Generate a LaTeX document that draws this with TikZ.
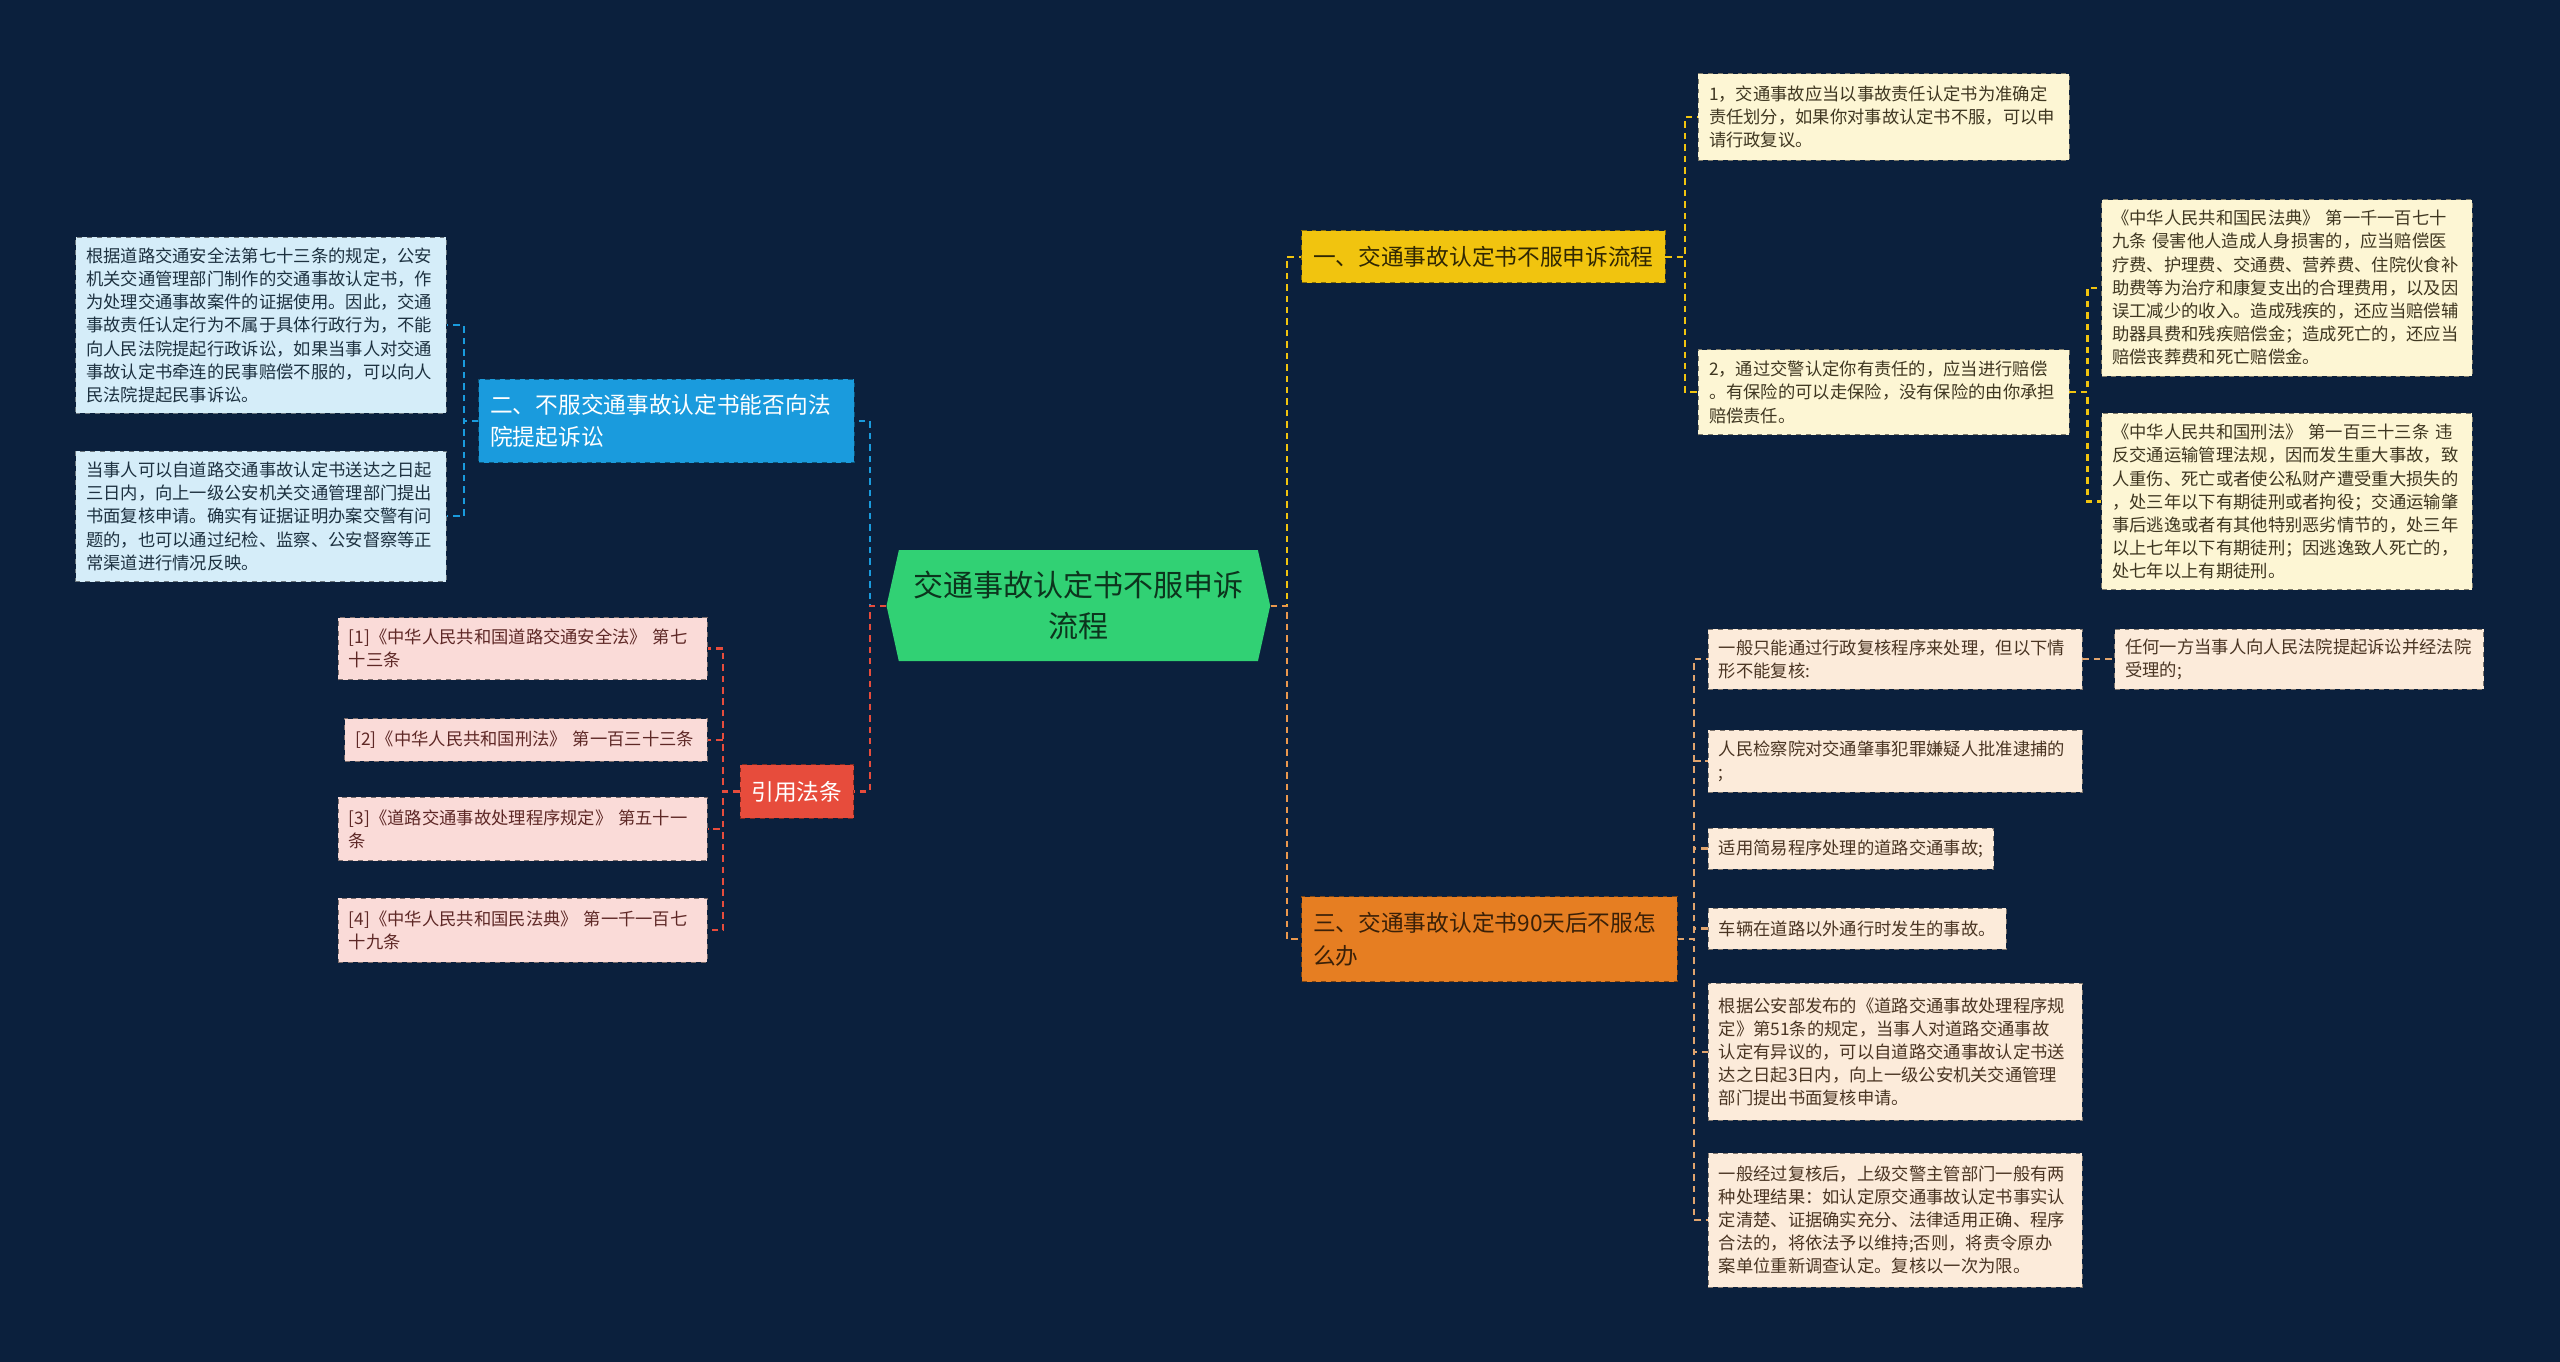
\documentclass[tikz,border=0pt]{standalone}
\usepackage{fontspec}
\setmainfont{Noto Sans CJK SC}
\usepackage{xcolor}
\usetikzlibrary{shapes.symbols, positioning}
\definecolor{fondo}{HTML}{0B203D}
\definecolor{verde}{HTML}{31D174}
\definecolor{amarillo}{HTML}{F1C40F}
\definecolor{azul}{HTML}{1A9BDD}
\definecolor{rojo}{HTML}{E74C3C}
\definecolor{naranja}{HTML}{E67E22}
\definecolor{tostado}{HTML}{E0A46E}
\definecolor{crema}{HTML}{FDF6D4}
\definecolor{celeste}{HTML}{D5EDF9}
\definecolor{rosa}{HTML}{FADBD8}
\definecolor{melocoton}{HTML}{FCEBDA}
\definecolor{oliva}{HTML}{3F3721}
\definecolor{marino}{HTML}{1D3140}
\definecolor{vino}{HTML}{5E2826}
\definecolor{pardo}{HTML}{4A3523}
\tikzset{
  raiz/.style={signal, signal to=east and west, signal pointer angle=155,
    fill=verde, text=verde!25!black, minimum width=235pt, minimum height=68pt,
    align=center, inner sep=0pt, font=\fontsize{18.4}{25}\selectfont},
  rama/.style={rectangle, fill=#1, draw=#1!55!black, dashed, line width=0.6pt,
    anchor=north west, align=left, inner xsep=7pt, inner ysep=4pt,
    font=\fontsize{13.9}{20}\selectfont},
  hoja/.style={rectangle, fill=#1, draw=#1!50!black, dashed, line width=0.5pt,
    anchor=north west, align=left, inner xsep=6.5pt, inner ysep=3pt,
    font=\fontsize{10.6}{14.2}\selectfont},
  enlace/.style={line width=1.4pt, dash pattern=on 4pt off 3pt}
}
\begin{document}
\begin{tikzpicture}[x=1pt, y=-1pt,
  hojaA/.style={hoja=crema, text=oliva, text width=214pt},
  hojaB/.style={hoja=celeste, text=marino, text width=214pt},
  hojaC/.style={hoja=rosa, text=vino},
  hojaD/.style={hoja=melocoton, text=pardo}]

  \useasboundingbox (0,0) rectangle (1568,834);
  \fill[fondo] (0,0) rectangle (1568,834);

  % --- Centro y ramas ---
  \node[raiz] (ctr) at (660.5,371) {交通事故认定书不服申诉\\流程};
  \node[rama=amarillo, text=amarillo!20!black, minimum height=32pt] (b1) at (797,141)
    {一、交通事故认定书不服申诉流程};
  \node[rama=azul, text=white, text width=216pt, minimum height=51pt] (b2) at (293,232)
    {二、不服交通事故认定书能否向法\\院提起诉讼};
  \node[rama=naranja, text=naranja!25!black, text width=216pt, minimum height=52pt] (b3) at (797,549)
    {三、交通事故认定书90天后不服怎\\么办};
  \node[rama=rojo, text=white, minimum height=33pt] (b4) at (453,468) {引用法条};

  % --- Rama uno ---
  \node[hojaA, minimum height=53pt] (c1a) at (1040,45)
    {1，交通事故应当以事故责任认定书为准确定\\责任划分，如果你对事故认定书不服，可以申\\请行政复议。};
  \node[hojaA, minimum height=52pt] (c1b) at (1040,214)
    {2，通过交警认定你有责任的，应当进行赔偿\\。有保险的可以走保险，没有保险的由你承担\\赔偿责任。};
  \node[hojaA, minimum height=108pt] (g1) at (1287,122)
    {《中华人民共和国民法典》 第一千一百七十\\九条 侵害他人造成人身损害的，应当赔偿医\\疗费、护理费、交通费、营养费、住院伙食补\\助费等为治疗和康复支出的合理费用，以及因\\误工减少的收入。造成残疾的，还应当赔偿辅\\助器具费和残疾赔偿金；造成死亡的，还应当\\赔偿丧葬费和死亡赔偿金。};
  \node[hojaA, minimum height=108pt] (g2) at (1287,253)
    {《中华人民共和国刑法》 第一百三十三条 违\\反交通运输管理法规，因而发生重大事故，致\\人重伤、死亡或者使公私财产遭受重大损失的\\，处三年以下有期徒刑或者拘役；交通运输肇\\事后逃逸或者有其他特别恶劣情节的，处三年\\以上七年以下有期徒刑；因逃逸致人死亡的，\\处七年以上有期徒刑。};

  % --- Rama dos ---
  \node[hojaB, minimum height=108pt] (c2a) at (46,145)
    {根据道路交通安全法第七十三条的规定，公安\\机关交通管理部门制作的交通事故认定书，作\\为处理交通事故案件的证据使用。因此，交通\\事故责任认定行为不属于具体行政行为，不能\\向人民法院提起行政诉讼，如果当事人对交通\\事故认定书牵连的民事赔偿不服的，可以向人\\民法院提起民事诉讼。};
  \node[hojaB, minimum height=80pt] (c2b) at (46,276)
    {当事人可以自道路交通事故认定书送达之日起\\三日内，向上一级公安机关交通管理部门提出\\书面复核申请。确实有证据证明办案交警有问\\题的，也可以通过纪检、监察、公安督察等正\\常渠道进行情况反映。};

  % --- Referencias ---
  \foreach \i/\x/\y/\h/\w/\txt in {
      1/207/378/38/213/{[1]《中华人民共和国道路交通安全法》 第七\\十三条},
      2/211/440/26/209/{[2]《中华人民共和国刑法》 第一百三十三条},
      3/207/488/39/213/{[3]《道路交通事故处理程序规定》 第五十一\\条},
      4/207/550/39/213/{[4]《中华人民共和国民法典》 第一千一百七\\十九条}}
    \node[hojaC, text width=\w pt, minimum height=\h pt] (r\i) at (\x,\y) {\txt};

  % --- Rama tres ---
  \node[hojaD, text width=216pt, minimum height=37pt] (c3a) at (1046,385)
    {一般只能通过行政复核程序来处理，但以下情\\形不能复核:};
  \node[hojaD, text width=213pt, minimum height=37pt] (c3g) at (1295,385)
    {任何一方当事人向人民法院提起诉讼并经法院\\受理的;};
  \node[hojaD, text width=216pt, minimum height=38pt] (c3b) at (1046,447)
    {人民检察院对交通肇事犯罪嫌疑人批准逮捕的\\;};
  \node[hojaD, minimum height=25pt] (c3c) at (1046,507) {适用简易程序处理的道路交通事故;};
  \node[hojaD, minimum height=25pt] (c3d) at (1046,556) {车辆在道路以外通行时发生的事故。};
  \node[hojaD, text width=216pt, minimum height=84pt] (c3e) at (1046,602)
    {根据公安部发布的《道路交通事故处理程序规\\定》第51条的规定，当事人对道路交通事故\\认定有异议的，可以自道路交通事故认定书送\\达之日起3日内，向上一级公安机关交通管理\\部门提出书面复核申请。};
  \node[hojaD, text width=216pt, minimum height=82pt] (c3f) at (1046,706)
    {一般经过复核后，上级交警主管部门一般有两\\种处理结果：如认定原交通事故认定书事实认\\定清楚、证据确实充分、法律适用正确、程序\\合法的，将依法予以维持;否则，将责令原办\\案单位重新调查认定。复核以一次为限。};

  % --- Enlaces ---
  \draw[enlace, azul] (ctr.west) -- ++(-10,0) |- (b2.east);
  \draw[enlace, rojo] (ctr.west) -- ++(-10,0) |- (b4.east);
  \draw[enlace, amarillo] (ctr.east) -- ++(10,0) |- (b1.west);
  \draw[enlace, naranja!80!white] (ctr.east) -- ++(10,0) |- (b3.west);

  \foreach \n in {c1a,c1b}
    \draw[enlace, amarillo] (b1.east) -- ++(12,0) |- (\n.west);
  \foreach \n in {g1,g2}
    \draw[enlace, amarillo] (c1b.east) -- ++(11,0) |- (\n.west);
  \foreach \n in {c2a,c2b}
    \draw[enlace, azul] (b2.west) -- ++(-9,0) |- (\n.east);
  \foreach \i in {1,...,4}
    \draw[enlace, rojo] (b4.west) -- ++(-10,0) |- (r\i.east);
  \foreach \n in {c3a,c3b,c3c,c3d,c3e,c3f}
    \draw[enlace, tostado] (b3.east) -- ++(10,0) |- (\n.west);
  \draw[enlace, tostado] (c3a.east) -- (c3g.west);

\end{tikzpicture}
\end{document}
